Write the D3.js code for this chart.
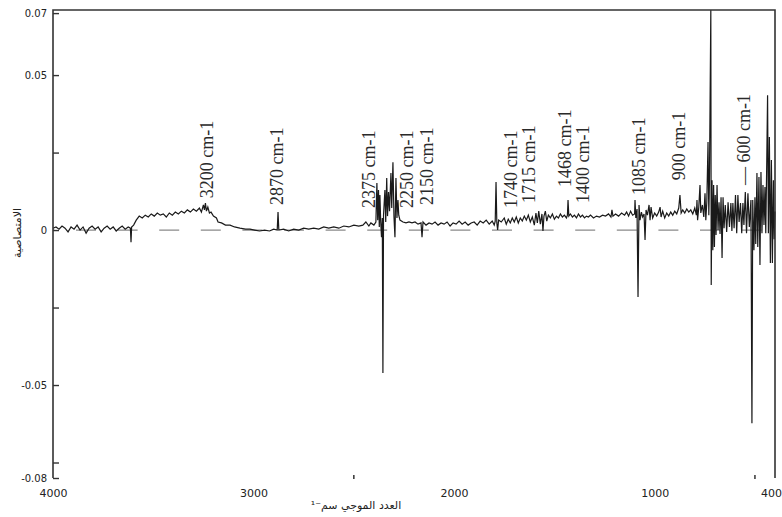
<!DOCTYPE html>
<html>
<head>
<meta charset="utf-8">
<script src="https://cdn.jsdelivr.net/npm/d3@7"></script>
<style>
  body { margin: 0; background: #fff; }
  svg { display: block; }
</style>
</head>
<body>
<div id="chart"></div>
<script>
// wavenumber (cm-1), absorbance difference
const spectrum = [
  [4000, 0.0006], [3985, 0.0010], [3970, 0.0003], [3955, 0.0013], [3940, 0.0006], [3925, -0.0006], [3910, 0.0010], [3895, 0.0003],
  [3880, 0.0016], [3865, 0.0000], [3850, 0.0010], [3835, -0.0010], [3820, 0.0006], [3805, 0.0013], [3790, 0.0003], [3775, 0.0010],
  [3760, -0.0006], [3745, 0.0006], [3730, 0.0013], [3715, 0.0003], [3700, 0.0010], [3685, -0.0003], [3670, 0.0006], [3655, 0.0013],
  [3640, 0.0003], [3625, 0.0010], [3614, 0.0006], [3611, -0.0039], [3608, 0.0010], [3598, 0.0016],
  [3585, 0.0032], [3570, 0.0045], [3555, 0.0039], [3540, 0.0048], [3525, 0.0042], [3510, 0.0052], [3495, 0.0045], [3480, 0.0055],
  [3465, 0.0048], [3450, 0.0052], [3435, 0.0042], [3420, 0.0055], [3405, 0.0048], [3390, 0.0058], [3375, 0.0052], [3360, 0.0061],
  [3345, 0.0055], [3330, 0.0065], [3315, 0.0058], [3300, 0.0068], [3285, 0.0061], [3270, 0.0071], [3260, 0.0058], [3250, 0.0081],
  [3245, 0.0065], [3240, 0.0087], [3235, 0.0061], [3228, 0.0074], [3220, 0.0055], [3212, 0.0058], [3200, 0.0045], [3185, 0.0039],
  [3177, 0.0026], [3160, 0.0023], [3140, 0.0016], [3117, 0.0016], [3095, 0.0010], [3068, 0.0006], [3040, 0.0003], [3018, 0.0003],
  [2995, 0.0000], [2970, -0.0003], [2945, 0.0000], [2920, -0.0003], [2900, 0.0003], [2882, 0.0000], [2878, 0.0058], [2874, 0.0000],
  [2850, 0.0003], [2825, -0.0003], [2800, 0.0003], [2775, 0.0000], [2750, 0.0006], [2725, 0.0003], [2700, 0.0006], [2675, 0.0003],
  [2650, 0.0010], [2625, 0.0006], [2600, 0.0010], [2575, 0.0006], [2550, 0.0013], [2525, 0.0010], [2500, 0.0016], [2475, 0.0013],
  [2455, 0.0016], [2440, 0.0026], [2425, 0.0013], [2415, 0.0023], [2400, 0.0016], [2390, 0.0026], [2385, 0.0152], [2381, 0.0032],
  [2377, 0.0129], [2373, 0.0010], [2370, 0.0113], [2366, 0.0026], [2362, -0.0023], [2358, 0.0039], [2355, -0.0461], [2352, 0.0048],
  [2345, 0.0129], [2341, 0.0026], [2336, 0.0168], [2332, 0.0045], [2327, 0.0123], [2322, 0.0061], [2315, 0.0184], [2311, 0.0071],
  [2305, 0.0219], [2300, 0.0045], [2295, -0.0023], [2290, 0.0168], [2285, 0.0039], [2280, 0.0097], [2276, 0.0048], [2270, 0.0032],
  [2255, 0.0026], [2240, 0.0023], [2225, 0.0026], [2210, 0.0023], [2195, 0.0026], [2180, 0.0019], [2165, 0.0023], [2160, -0.0023],
  [2155, 0.0026], [2140, 0.0016], [2125, 0.0023], [2110, 0.0019], [2095, 0.0026], [2080, 0.0016], [2065, 0.0023], [2050, 0.0019],
  [2035, 0.0026], [2020, 0.0013], [2005, 0.0023], [1990, 0.0019], [1975, 0.0029], [1960, 0.0019], [1945, 0.0026], [1930, 0.0016],
  [1915, 0.0023], [1900, 0.0026], [1885, 0.0016], [1870, 0.0029], [1855, 0.0023], [1840, 0.0032], [1825, 0.0019], [1810, 0.0029],
  [1800, 0.0016], [1795, 0.0029], [1791, 0.0155], [1787, 0.0023], [1783, 0.0000], [1778, 0.0032], [1765, 0.0026], [1750, 0.0039],
  [1740, 0.0019], [1730, 0.0035], [1720, 0.0023], [1710, 0.0039], [1700, 0.0026], [1690, 0.0042], [1680, 0.0023], [1670, 0.0039],
  [1660, 0.0029], [1650, 0.0045], [1640, 0.0032], [1630, 0.0048], [1620, 0.0026], [1610, 0.0042], [1600, 0.0016], [1592, 0.0055],
  [1585, 0.0023], [1578, 0.0061], [1570, 0.0019], [1562, 0.0052], [1557, -0.0003], [1552, 0.0045], [1545, 0.0061], [1538, 0.0029],
  [1530, 0.0048], [1520, 0.0039], [1510, 0.0052], [1500, 0.0035], [1490, 0.0045], [1480, 0.0039], [1470, 0.0052], [1460, 0.0042],
  [1450, 0.0048], [1440, 0.0039], [1435, 0.0048], [1432, 0.0097], [1428, 0.0045], [1420, 0.0052], [1410, 0.0042], [1400, 0.0048],
  [1390, 0.0039], [1380, 0.0052], [1370, 0.0042], [1360, 0.0048], [1350, 0.0039], [1340, 0.0045], [1330, 0.0042], [1320, 0.0048],
  [1305, 0.0039], [1290, 0.0045], [1275, 0.0042], [1260, 0.0048], [1245, 0.0045], [1230, 0.0052], [1218, 0.0042], [1213, 0.0065],
  [1208, 0.0045], [1195, 0.0052], [1180, 0.0045], [1165, 0.0055], [1150, 0.0048], [1140, 0.0058], [1130, 0.0045], [1120, 0.0061],
  [1110, 0.0048], [1100, 0.0052], [1098, 0.0097], [1094, 0.0039], [1088, 0.0068], [1083, -0.0216], [1078, 0.0081], [1073, 0.0032],
  [1066, 0.0058], [1060, 0.0042], [1053, 0.0052], [1048, -0.0032], [1043, 0.0065], [1036, 0.0048], [1028, 0.0081], [1023, 0.0032],
  [1018, 0.0074], [1010, 0.0039], [1000, 0.0055], [990, 0.0045], [980, 0.0058], [973, 0.0074], [968, 0.0042], [960, 0.0061],
  [950, 0.0039], [940, 0.0055], [930, 0.0045], [920, 0.0058], [910, 0.0048], [900, 0.0061], [890, 0.0052], [880, 0.0071],
  [874, 0.0113], [868, 0.0055], [860, 0.0065], [850, 0.0055], [840, 0.0068], [830, 0.0058], [820, 0.0065], [810, 0.0052],
  [800, 0.0071], [792, 0.0048], [789, 0.0097], [786, 0.0032], [780, 0.0074], [774, 0.0145], [770, 0.0055], [762, 0.0081],
  [755, 0.0042], [749, 0.0119], [745, 0.0032], [740, 0.0090], [734, 0.0284], [730, 0.0048], [727, 0.0152], [720, 0.0710],
  [718, -0.0177], [714, 0.0161], [710, -0.0065], [706, 0.0145], [702, -0.0055], [698, 0.0113], [694, -0.0016], [689, 0.0145],
  [684, 0.0000], [679, 0.0090], [674, -0.0013], [669, 0.0106], [664, -0.0090], [659, 0.0106], [654, 0.0006], [648, 0.0081],
  [641, -0.0006], [634, 0.0090], [627, 0.0010], [620, 0.0087], [615, -0.0003], [610, 0.0087], [604, 0.0006], [597, 0.0113],
  [591, -0.0010], [585, 0.0113], [579, 0.0026], [572, 0.0087], [566, -0.0010], [560, 0.0087], [555, 0.0016], [548, 0.0123],
  [542, -0.0010], [535, 0.0119], [528, 0.0010], [520, 0.0097], [515, -0.0623], [511, 0.0097], [505, -0.0065], [500, 0.0106],
  [496, -0.0045], [490, 0.0184], [486, -0.0055], [480, 0.0171], [475, -0.0113], [470, 0.0187], [465, -0.0010], [460, 0.0145],
  [455, 0.0016], [450, 0.0139], [446, -0.0010], [441, 0.0226], [437, 0.0435], [433, -0.0010], [428, 0.0300], [423, -0.0106],
  [418, 0.0226], [413, -0.0106], [408, 0.0161], [404, -0.0030], [400, 0.0060]
];

// peak annotations: text, wavenumber of label, absorbance where the label starts
const peakLabels = ["3200 cm-1", "2870 cm-1", "2375 cm-1", "2250 cm-1", "2150 cm-1", "1740 cm-1",
                    "1715 cm-1", "1468 cm-1", "1400 cm-1", "1085 cm-1", "900 cm-1", "— 600 cm-1"];
const peakWn = [3232, 2883, 2424, 2235, 2135, 1716, 1627, 1447, 1357, 1078, 879, 555];
const peakAbs = [0.0103, 0.0081, 0.0071, 0.0071, 0.0081, 0.0071, 0.0087, 0.0139, 0.0087, 0.0113, 0.0161, 0.0145];

const xTicks = [4000, 3000, 2000, 1000, 400];
const xMinorTicks = [2500, 500];
const yTickValues = [0.07, 0.05, 0.025, 0, -0.025, -0.05, -0.075, -0.08];
const yTickLabels = ["0.07", "0.05", "", "0", "", "-0.05", "", "-0.08"];

const xTitle = "العدد الموجي سم⁻¹";
const yTitle = "الامتصاصية";

const width = 782, height = 517;
const plotLeft = 53, plotRight = 775, plotTop = 10, plotBottom = 478;

const svg = d3.select("#chart")
    .append("svg")
    .attr("width", width)
    .attr("height", height)
;

const x = d3.scaleLinear().domain([4000, 400]).range([plotLeft, plotRight]);
const y = d3.scaleLinear().domain([-0.08, 0.071]).range([plotBottom, plotTop]);

// zero line
svg.append("line")
    .attr("x1", plotLeft).attr("x2", plotRight)
    .attr("y1", y(0)).attr("y2", y(0))
    .style("stroke", "#8a8a8a")
    .style("stroke-width", 1.3)
    .style("stroke-dasharray", "20,21.6")
    .style("stroke-dashoffset", 18.6)
;

// spectrum
svg.append("path")
    .datum(spectrum)
    .attr("d", d3.line().x(d => x(d[0])).y(d => y(d[1])))
    .style("fill", "none")
    .style("stroke", "#1a1a1a")
    .style("stroke-width", 1.2)
;

// frame: left, top, right (no bottom line in the original)
svg.append("path")
    .attr("d", `M${plotLeft},${plotBottom}V${plotTop}H${plotRight}V${plotBottom}`)
    .style("fill", "none")
    .style("stroke", "#333")
    .style("stroke-width", 1.6)
;

// y axis
const yAxis = svg.append("g")
    .attr("transform", `translate(${plotLeft},0)`)
    .call(d3.axisLeft(y)
        .tickValues(yTickValues)
        .tickSizeInner(-6)
        .tickSizeOuter(0)
        .tickPadding(6)
        .tickFormat((d, i) => yTickLabels[i]))
;
yAxis.select(".domain").remove();
yAxis.selectAll("line").style("stroke", "#333").style("stroke-width", 1.4);
yAxis.selectAll("text")
    .style("font-family", "'DejaVu Sans', sans-serif")
    .style("font-size", "10px")
    .style("fill", "#222")
;

// x axis
const xAxis = svg.append("g")
    .attr("transform", `translate(0,${plotBottom})`)
    .call(d3.axisBottom(x)
        .tickValues(xTicks)
        .tickSize(0)
        .tickPadding(11)
        .tickFormat(d3.format("d")))
;
xAxis.select(".domain").remove();
xAxis.selectAll("text")
    .style("font-family", "'DejaVu Sans', sans-serif")
    .style("font-size", "11px")
    .style("fill", "#222")
;
// last label sits against the right edge, keep it inside the page
xAxis.selectAll(".tick text")
    .filter(d => d === 400)
    .attr("text-anchor", "end")
    .attr("dx", "0.6em")
;

svg.append("g")
    .selectAll("line")
    .data(xMinorTicks)
    .join("line")
    .attr("x1", d => x(d)).attr("x2", d => x(d))
    .attr("y1", plotBottom - 3).attr("y2", plotBottom + 1)
    .style("stroke", "#333")
    .style("stroke-width", 1.5)
;

// peak labels
svg.append("g")
    .selectAll("text")
    .data(peakLabels)
    .join("text")
    .attr("transform", (d, i) => `translate(${x(peakWn[i]) + 6},${y(peakAbs[i])}) rotate(-90)`)
    .text(d => d)
    .style("font-family", "'Liberation Serif', 'Times New Roman', serif")
    .style("font-size", "18px")
    .style("fill", "#2a2a2a")
;

// axis titles
svg.append("text")
    .attr("x", (plotLeft + plotRight) / 2 - 58)
    .attr("y", 509)
    .attr("text-anchor", "middle")
    .attr("direction", "rtl")
    .text(xTitle)
    .style("font-family", "'DejaVu Sans', sans-serif")
    .style("font-size", "11px")
    .style("fill", "#222")
;

svg.append("text")
    .attr("transform", "translate(21,233) rotate(-90)")
    .attr("text-anchor", "middle")
    .text(yTitle)
    .style("font-family", "'DejaVu Sans', sans-serif")
    .style("font-size", "11px")
    .style("fill", "#222")
;
</script>
</body>
</html>
